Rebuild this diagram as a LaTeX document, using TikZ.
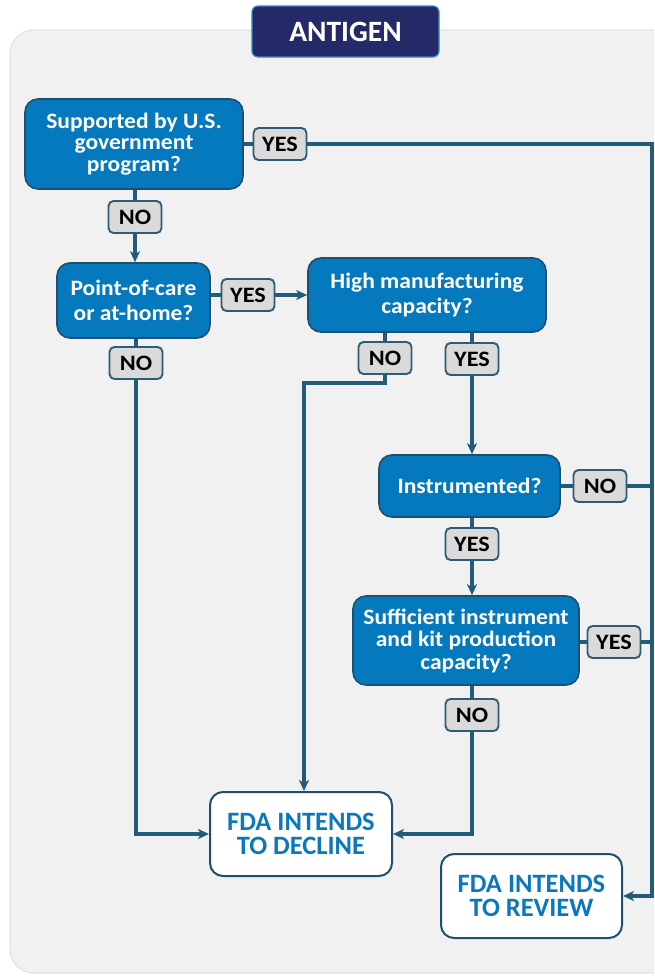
\documentclass[tikz,border=0pt]{standalone}
\usepackage{fontspec}
\setmainfont{Carlito}
\newfontfamily\qfontfam[FakeStretch=1.07]{Carlito}
\newfontfamily\labfontfam[FakeStretch=1.1]{Carlito}
\usetikzlibrary{arrows.meta}
\definecolor{panelfill}{HTML}{F1F1F1}
\definecolor{panelborder}{HTML}{E2E2E2}
\definecolor{navy}{HTML}{242A68}
\definecolor{navyborder}{HTML}{3A86C6}
\definecolor{nodeblue}{HTML}{0579BE}
\definecolor{nodeborder}{HTML}{1E4F6E}
\definecolor{linecol}{HTML}{235B7A}
\definecolor{labelfill}{HTML}{DADADA}
\definecolor{labelborder}{HTML}{2E5C78}
\definecolor{textblue}{HTML}{0A78BE}
\tikzset{
  qbox/.style={draw=nodeborder, line width=1.6pt, fill=nodeblue, rounded corners=13pt,
    text=white, align=center, inner sep=0pt},
  qfont/.style={font=\qfontfam\bfseries\fontsize{22}{#1}\selectfont},
  endbox/.style={draw=nodeborder, line width=2pt, fill=white, rounded corners=13pt,
    text=textblue, align=center, inner sep=0pt, minimum width=182pt, minimum height=84pt,
    font=\bfseries\fontsize{26.5}{24.5}\selectfont},
  lab/.style={draw=labelborder, line width=1.9pt, fill=labelfill, rounded corners=5pt,
    minimum width=53pt, minimum height=32pt, inner sep=0pt,
    font=\labfontfam\bfseries\fontsize{22}{22}\selectfont},
  conn/.style={draw=linecol, line width=3.3pt, line join=miter},
  arr/.style={conn, -{Stealth[length=11pt, width=10pt, inset=3pt]}},
}
\begin{document}
\begin{tikzpicture}[x=1pt, y=-1pt]
\useasboundingbox (0,0) rectangle (654,978);
\clip (0,0) rectangle (654,978);
\fill[white] (0,0) rectangle (654,978);
% panel
\draw[fill=panelfill, draw=panelborder, line width=1.2pt, rounded corners=24pt] (10,30) rectangle (720,973);
% title
\node[draw=navyborder, line width=1.2pt, fill=navy, rounded corners=6pt, minimum width=187pt, minimum height=51pt,
  text=white, font=\bfseries\fontsize{29.5}{29.5}\selectfont, inner sep=0pt] (title) at (345.5,31.5) {ANTIGEN};
% questions
\node[qbox, qfont=21.5, minimum width=218pt, minimum height=90pt] (A) at (134,144)
  {Supported by U.S.\\government\\program?};
\node[qbox, qfont=25, minimum width=153pt, minimum height=75pt] (B) at (133.5,300.5)
  {Point-of-care\\or at-home?};
\node[qbox, qfont=25, minimum width=238pt, minimum height=74pt] (C) at (427,295)
  {High manufacturing\\capacity?};
\node[qbox, qfont=25, minimum width=181pt, minimum height=62pt] (D) at (469.5,486)
  {Instrumented?};
\node[qbox, qfont=22.5, minimum width=226pt, minimum height=89pt] (E) at (466,640.5)
  {Sufficient instrument\\and kit production\\capacity?};
% outcomes
\node[endbox] (decline) at (301,834) {FDA INTENDS\\TO DECLINE};
\node[endbox, minimum width=181pt] (review) at (531.5,896) {FDA INTENDS\\TO REVIEW};
% labels
\node[lab] (yes1) at (280,144) {YES};
\node[lab] (no1) at (135,217) {NO};
\node[lab] (yes2) at (248,295) {YES};
\node[lab] (no2) at (136,363) {NO};
\node[lab] (no3) at (385,358) {NO};
\node[lab] (yes3) at (472,359) {YES};
\node[lab] (no4) at (600,486) {NO};
\node[lab] (yes4) at (472,544) {YES};
\node[lab] (yes5) at (614,642) {YES};
\node[lab] (no5) at (472,715) {NO};
% helper coordinates
\coordinate (rtop) at (652,144);
\coordinate (rbot) at (652,896);
\coordinate (k1) at (385,383);
\coordinate (k2) at (304,383);
% connectors
\draw[conn] (A.east |- yes1) -- (yes1.west);
\draw[arr] (yes1.east) -- (rtop) -- (rbot) -- (review.east);
\draw[conn] (A.south -| no1) -- (no1.north);
\draw[arr] (no1.south) -- (B.north -| no1);
\draw[conn] (B.east |- yes2) -- (yes2.west);
\draw[arr] (yes2.east) -- (C.west |- yes2);
\draw[conn] (B.south -| no2) -- (no2.north);
\draw[arr] (no2.south) -- (no2 |- decline.west) -- (decline.west);
\draw[conn] (C.south -| no3) -- (no3.north);
\draw[arr] (no3.south) -- (k1) -- (k2) -- (k2 |- decline.north);
\draw[conn] (C.south -| yes3) -- (yes3.north);
\draw[arr] (yes3.south) -- (D.north -| yes3);
\draw[conn] (D.east |- no4) -- (no4.west);
\draw[conn] (no4.east) -- (no4 -| rtop);
\draw[conn] (D.south -| yes4) -- (yes4.north);
\draw[arr] (yes4.south) -- (E.north -| yes4);
\draw[conn] (E.east |- yes5) -- (yes5.west);
\draw[conn] (yes5.east) -- (yes5 -| rtop);
\draw[conn] (E.south -| no5) -- (no5.north);
\draw[arr] (no5.south) -- (no5 |- decline.east) -- (decline.east);
\end{tikzpicture}
\end{document}
